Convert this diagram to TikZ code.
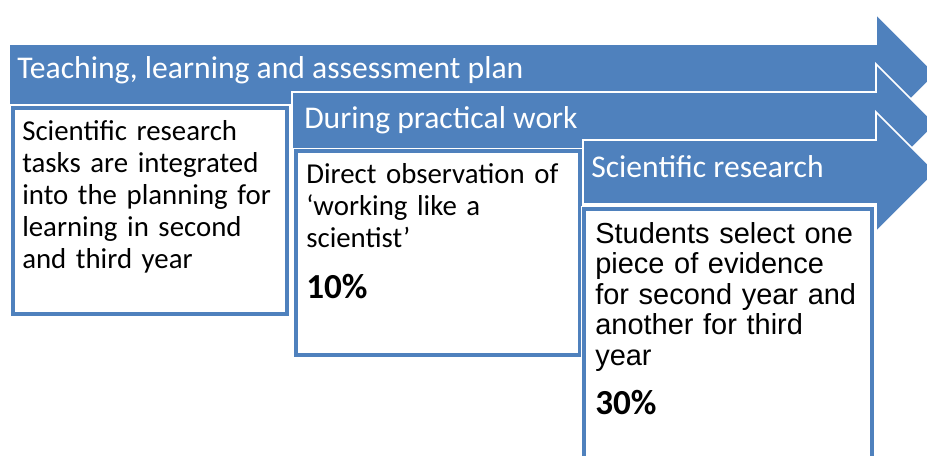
\documentclass[tikz,border=0pt]{standalone}
\usepackage{fontspec}
\setmainfont{Carlito}
\newfontfamily\arialfont{Liberation Sans}
\definecolor{bandblue}{HTML}{4F81BD}

\begin{document}
\begin{tikzpicture}[x=0.025cm,y=-0.025cm,
    band/.style={fill=bandblue, draw=white, line width=1.2pt},
    panel/.style={fill=white, draw=bandblue, line width=2.8pt, preaction={draw=white, line width=4.4pt}},
    head/.style={anchor=base west, inner sep=0pt, text=white, font=\fontsize{22.5}{27}\selectfont},
    body/.style={anchor=base west, inner sep=0pt, align=left, text width=#1, font=\fontsize{20.5}{22.8}\selectfont},
    pct/.style={anchor=base west, inner sep=0pt, font=\bfseries\fontsize{25}{30}\selectfont}]
    \useasboundingbox (0,0) rectangle (927,455);
    \clip (0,0) rectangle (927,455);
    % first band and its box
    \draw[band] (9,44) -- (876,44) -- (876,14) -- (936,74) -- (876,134) -- (876,105) -- (9,105) -- cycle;
    \node[head] (headA) at (17,78) {Teaching, learning and assessment plan};
    \draw[panel] (13,108) rectangle (287,314);
    \node[body=7cm] (bodyA) at (22,140) {Scientific research\\tasks are integrated\\into the planning for\\learning in second\\and third year};
    % second band
    \draw[band] (292,92) -- (876,92) -- (876,64) -- (936,124) -- (876,184) -- (876,156) -- (292,156) -- cycle;
    \node[head] (headB) at (304,128) {During practical work};
    \draw[panel] (296,151) rectangle (580,355);
    \node[body=7cm] (bodyB) at (306,183) {Direct observation of\\‘working like a\\scientist’};
    \node[pct] (pctB) at (306,298) {10\%};
    % third band
    \draw[band] (583,140) -- (876,140) -- (876,112) -- (936,172) -- (876,232) -- (876,204) -- (583,204) -- cycle;
    \node[head] (headC) at (591,177) {Scientific research};
    \draw[panel] (584,209) rectangle (872,480);
    \node[body=7.4cm, font=\arialfont\fontsize{20.6}{21.7}\selectfont] (bodyC) at (595,243) {Students select one\\piece of evidence\\for second year and\\another for third\\year};
    \node[pct] (pctC) at (595,414) {30\%};
\end{tikzpicture}
\end{document}
